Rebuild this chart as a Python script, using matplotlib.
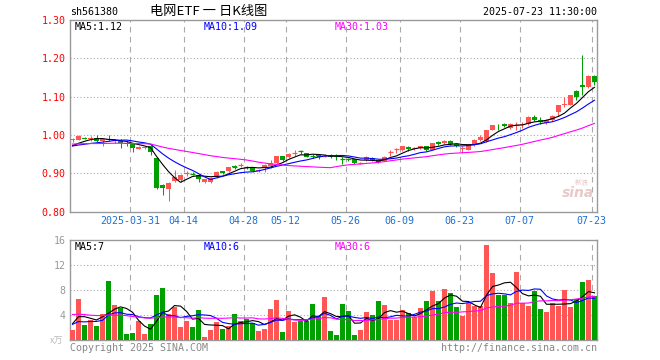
import numpy as np
import pandas as pd
import matplotlib
matplotlib.use('Agg')
import matplotlib.pyplot as plt

# 日K数据（2025-03-17 ~ 2025-07-23），价格单位元，成交量单位万
opens = [0.986, 0.987, 0.993, 0.990, 0.992, 0.984, 0.988, 0.983, 0.985, 0.979,
         0.977, 0.964, 0.967, 0.971, 0.939, 0.869, 0.860, 0.880, 0.883, 0.899,
         0.899, 0.896, 0.876, 0.877, 0.889, 0.906, 0.906, 0.918, 0.921, 0.917,
         0.915, 0.906, 0.913, 0.918, 0.926, 0.945, 0.942, 0.952, 0.958, 0.952,
         0.946, 0.947, 0.945, 0.948, 0.946, 0.938, 0.938, 0.936, 0.926, 0.934,
         0.939, 0.934, 0.933, 0.955, 0.963, 0.961, 0.969, 0.965, 0.966, 0.970,
         0.961, 0.981, 0.978, 0.985, 0.975, 0.965, 0.961, 0.974, 0.987, 0.983,
         1.013, 1.027, 1.029, 1.017, 1.025, 1.027, 1.029, 1.048, 1.038, 1.030,
         1.039, 1.061, 1.077, 1.078, 1.115, 1.131, 1.126, 1.154]
highs = [0.993, 0.999, 0.995, 0.997, 1.000, 0.990, 1.001, 0.990, 0.988, 0.983,
         0.979, 0.972, 0.972, 0.973, 0.941, 0.871, 0.876, 0.909, 0.899, 0.906,
         0.902, 0.898, 0.886, 0.889, 0.906, 0.907, 0.917, 0.921, 0.927, 0.919,
         0.916, 0.911, 0.923, 0.935, 0.946, 0.946, 0.952, 0.961, 0.961, 0.953,
         0.950, 0.949, 0.949, 0.949, 0.949, 0.943, 0.940, 0.937, 0.930, 0.944,
         0.941, 0.935, 0.945, 0.961, 0.967, 0.972, 0.971, 0.969, 0.972, 0.972,
         0.979, 0.983, 0.987, 0.987, 0.976, 0.970, 0.975, 0.988, 1.000, 1.014,
         1.027, 1.028, 1.030, 1.031, 1.033, 1.033, 1.049, 1.051, 1.048, 1.041,
         1.051, 1.079, 1.100, 1.105, 1.116, 1.209, 1.156, 1.156]
lows = [0.982, 0.986, 0.988, 0.985, 0.982, 0.972, 0.985, 0.980, 0.967, 0.970,
        0.956, 0.962, 0.964, 0.948, 0.859, 0.843, 0.827, 0.878, 0.878, 0.893,
        0.894, 0.877, 0.874, 0.875, 0.888, 0.899, 0.904, 0.910, 0.916, 0.912,
        0.904, 0.903, 0.902, 0.914, 0.925, 0.933, 0.940, 0.946, 0.951, 0.941,
        0.939, 0.936, 0.942, 0.939, 0.935, 0.925, 0.932, 0.924, 0.923, 0.932,
        0.932, 0.927, 0.931, 0.944, 0.952, 0.959, 0.957, 0.961, 0.964, 0.959,
        0.960, 0.973, 0.977, 0.974, 0.968, 0.952, 0.960, 0.972, 0.983, 0.982,
        1.012, 1.013, 1.020, 1.016, 1.013, 1.018, 1.027, 1.035, 1.028, 1.028,
        1.037, 1.050, 1.074, 1.077, 1.091, 1.104, 1.122, 1.130]
closes = [0.988, 0.997, 0.990, 0.992, 0.984, 0.989, 0.986, 0.987, 0.978, 0.975,
          0.965, 0.969, 0.969, 0.956, 0.861, 0.861, 0.874, 0.891, 0.894, 0.900,
          0.898, 0.885, 0.884, 0.887, 0.904, 0.901, 0.915, 0.917, 0.922, 0.916,
          0.906, 0.908, 0.922, 0.927, 0.945, 0.935, 0.950, 0.953, 0.957, 0.943,
          0.945, 0.946, 0.946, 0.941, 0.945, 0.937, 0.937, 0.926, 0.927, 0.943,
          0.934, 0.929, 0.943, 0.956, 0.964, 0.970, 0.963, 0.966, 0.970, 0.961,
          0.978, 0.976, 0.985, 0.976, 0.971, 0.966, 0.974, 0.987, 0.994, 1.013,
          1.026, 1.025, 1.022, 1.029, 1.026, 1.028, 1.048, 1.039, 1.037, 1.039,
          1.050, 1.077, 1.081, 1.104, 1.100, 1.126, 1.154, 1.137]
volumes = [1.6, 6.56, 2.4, 3.2, 2.24, 4.16, 9.44, 5.6, 5.07, 0.96,
           1.12, 3.04, 0.96, 2.56, 7.2, 8.32, 4.16, 5.33, 2.08, 3.04,
           2.08, 4.8, 0.48, 1.6, 2.88, 1.76, 2.24, 4.16, 3.04, 3.36,
           2.72, 1.44, 1.76, 4.96, 6.4, 1.28, 4.64, 2.88, 3.04, 3.1,
           5.76, 3.9, 6.88, 1.44, 0.8, 5.76, 4.64, 0.8, 1.6, 4.48,
           4.0, 6.24, 5.6, 3.2, 3.2, 4.8, 4.32, 3.68, 5.12, 6.24,
           7.84, 6.24, 8.16, 7.52, 5.28, 3.84, 6.0, 5.44, 5.44, 15.2,
           10.7, 7.2, 7.2, 5.9, 10.9, 5.9, 5.4, 7.84, 4.96, 4.48,
           5.9, 5.44, 8.0, 5.28, 6.56, 9.28, 9.6, 7.04]

# 窗口之前的29个交易日（只用来算均线）
prior_close = [0.975, 0.979, 0.982, 0.985, 0.981, 0.978, 0.976, 0.980, 0.983, 0.979,
               0.977, 0.975, 0.978, 0.981, 0.980, 0.976, 0.974, 0.978, 0.980, 0.973,
               0.972, 0.969, 0.971, 0.968, 0.970, 0.966, 0.965, 0.970, 0.971]
prior_vol = [5.2, 4.1, 6.3, 3.8, 4.9, 5.6, 7.0, 4.4, 3.9, 5.1,
             6.2, 4.5, 3.6, 5.3, 4.8, 4.2, 5.5, 4.0, 4.6, 4.4,
             2.0, 3.0, 2.5, 2.2, 2.3, 0.9, 2.4, 4.5, 3.6]

tick_pos = [10, 19, 29, 36, 46, 55, 65, 75, 87]
tick_labels = ['2025-03-31', '04-14', '04-28', '05-12', '05-26',
               '06-09', '06-23', '07-07', '07-23']

RED = '#ff5555'
GREEN = '#00a000'
GRID = '#aaaaaa'
FRAME = '#999999'
MONO = 'DejaVu Sans Mono'
W, H = 660, 360


def fx(x):
    return x / W


def fy(y):
    return 1 - y / H


def ma(prior, data, n):
    s = pd.Series(prior + data)
    return s.rolling(n).mean().values[len(prior):]


n = len(closes)
idx = np.arange(n)
o = np.array(opens)
c = np.array(closes)
up = c >= o
colors = [RED if u else GREEN for u in up]

fig = plt.figure(figsize=(6.6, 3.6), dpi=100)
ax1 = fig.add_axes([fx(70), fy(211.5), fx(597 - 70), (211.5 - 20) / H])
ax2 = fig.add_axes([fx(70), fy(340), fx(597 - 70), 100 / H])

#K线
ax1.vlines(idx, lows, highs, colors=colors, linewidth=0.75, zorder=3)
body_bot = np.minimum(o, c)
body_h = np.abs(c - o)
ax1.bar(idx, body_h, bottom=body_bot, width=0.83, color=colors, linewidth=0, zorder=4)
flat = body_h < 0.002
ax1.hlines(c[flat], idx[flat] - 0.42, idx[flat] + 0.42,
           colors=np.array(colors)[flat], linewidth=0.9, zorder=4)

ma5 = ma(prior_close, closes, 5)
ma10 = ma(prior_close, closes, 10)
ma30 = ma(prior_close, closes, 30)
ax1.plot(idx, ma5, color='black', lw=0.8, zorder=5)
ax1.plot(idx, ma10, color='blue', lw=0.8, zorder=5)
ax1.plot(idx, ma30, color='magenta', lw=0.8, zorder=5)

ax1.set_xlim(-0.42, n - 0.58)
ax1.set_ylim(0.80, 1.30)
ax1.set_yticks([0.8, 0.9, 1.0, 1.1, 1.2, 1.3])
ax1.set_yticklabels(['%.2f' % v for v in [0.8, 0.9, 1.0, 1.1, 1.2, 1.3]],
                    color='red', fontsize=7.2, family=MONO)
for v in [0.9, 1.0, 1.1, 1.2]:
    ax1.axhline(v, color=GRID, lw=0.8, ls=(0, (1, 2)), zorder=1)
ax1.set_xticks([p - 0.45 for p in tick_pos])
ax1.set_xticklabels(tick_labels, color='#1e6fd0', fontsize=7.2, family=MONO)

#成交量
ax2.bar(idx, volumes, width=0.83, color=colors, linewidth=0, zorder=3)
ax2.plot(idx, ma(prior_vol, volumes, 5), color='black', lw=0.8, zorder=5)
ax2.plot(idx, ma(prior_vol, volumes, 10), color='blue', lw=0.8, zorder=5)
ax2.plot(idx, ma(prior_vol, volumes, 30), color='magenta', lw=0.8, zorder=5)
ax2.set_xlim(-0.42, n - 0.58)
ax2.set_ylim(0, 16)
ax2.set_yticks([4, 8, 12, 16])
ax2.set_yticklabels(['4', '8', '12', '16'], color='#999999', fontsize=7.2, family=MONO)
for v in [4, 8, 12]:
    ax2.axhline(v, color=GRID, lw=0.8, ls=(0, (1, 2)), zorder=1)
ax2.set_xticks([])

for ax in (ax1, ax2):
    for p in tick_pos:
        ax.axvline(p - 0.45, color=GRID, lw=0.8, ls=(0, (5, 4)), zorder=1)
    for s in ax.spines.values():
        s.set_color(FRAME)
        s.set_linewidth(1.0)
    ax.tick_params(length=0, pad=3)
    ax.set_facecolor('white')

# 文字
fig.text(fx(70), fy(12), 'sh561380', fontsize=7.2, family=MONO, va='center', ha='left')
fig.text(fx(209), fy(12), '电网ETF 一 日K线图', fontsize=9.5,
         family=['Noto Sans CJK SC', 'DejaVu Sans'], va='center', ha='center')
fig.text(fx(597), fy(12), '2025-07-23 11:30:00', fontsize=7.2, family=MONO,
         va='center', ha='right')

fig.text(fx(75), fy(27), 'MA5:%.2f' % ma5[-1], fontsize=7.2, family=MONO,
         va='center', color='black')
fig.text(fx(204), fy(27), 'MA10:%.2f' % ma10[-1], fontsize=7.2, family=MONO,
         va='center', color='blue')
fig.text(fx(335), fy(27), 'MA30:%.2f' % ma30[-1], fontsize=7.2, family=MONO,
         va='center', color='magenta')

fig.text(fx(75), fy(247), 'MA5:7', fontsize=7.2, family=MONO, va='center', color='black')
fig.text(fx(204), fy(247), 'MA10:6', fontsize=7.2, family=MONO, va='center', color='blue')
fig.text(fx(335), fy(247), 'MA30:6', fontsize=7.2, family=MONO, va='center', color='magenta')

fig.text(fx(50), fy(341), 'x万', fontsize=6.5, color='#bbbbbb',
         family=['Noto Sans CJK SC', 'DejaVu Sans'], va='center', ha='left')
fig.text(fx(70), fy(348), 'Copyright 2025 SINA.COM', fontsize=7.2, family=MONO,
         color='#888888', va='center', ha='left')
fig.text(fx(597), fy(348), 'http://finance.sina.com.cn', fontsize=7.2, family=MONO,
         color='#888888', va='center', ha='right')
fig.text(fx(578), fy(193), 'sina', fontsize=10, color='#e8c8c8', style='italic',
         weight='bold', va='center', ha='center')
fig.text(fx(582), fy(183), '新浪', fontsize=5, color='#e8c8c8',
         family=['Noto Sans CJK SC', 'DejaVu Sans'], va='center', ha='center')

fig.savefig('out.png', dpi=100)
